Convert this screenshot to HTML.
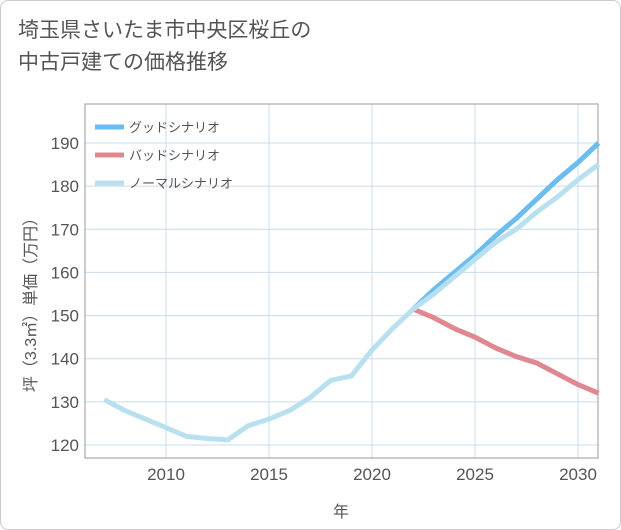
<!DOCTYPE html>
<html><head><meta charset="utf-8"><style>
body{margin:0;background:#fff;}
#wrap{position:relative;width:619px;height:528px;border:1px solid #ccc;border-radius:8px;overflow:hidden;background:#fff;font-family:"Liberation Sans","Noto Sans CJK JP",sans-serif;}
#title{position:absolute;left:17px;top:14px;font-size:21px;line-height:32px;color:#555;}
svg{position:absolute;left:0;top:0;}
</style></head><body>
<div id="wrap">
<div id="title">埼玉県さいたま市中央区桜丘の<br>中古戸建ての価格推移</div>
<svg id="chart" width="621" height="530"></svg>
</div>
<script>
const normalYears=[2007,2008,2009,2010,2011,2012,2013,2014,2015,2016,2017,2018,2019,2020,2021,2022,2023,2024,2025,2026,2027,2028,2029,2030,2031];
const normalVals=[130.5,128,126,124,122,121.5,121.2,124.5,126,128,131,135,136,142,147,151.5,155,159,163,167,170,174,177.5,181.5,185];
const scenYears=[2022,2023,2024,2025,2026,2027,2028,2029,2030,2031];
const goodVals=[151.5,156,160,164,168.5,172.5,177,181.5,185.5,190];
const badVals=[151.5,149.5,147,145,142.5,140.5,139,136.5,134,132];
const xTicks=[2010,2015,2020,2025,2030];
const yTicks=[120,130,140,150,160,170,180,190];
const NS='http://www.w3.org/2000/svg';
const svg=document.getElementById('chart');
const L=84,R=597,T=103,B=457;
const x=y=>165+(y-2010)*20.6;
const yS=v=>444-(v-120)*(302/70);
function mk(tag,attrs){const e=document.createElementNS(NS,tag);for(const k in attrs)e.setAttribute(k,attrs[k]);svg.appendChild(e);return e;}
for(const t of yTicks){
 const g=mk('line',{x1:L,x2:R,y1:yS(t),y2:yS(t),stroke:'#c9dcec','stroke-width':1});
 
 
 const tx=mk('text',{x:L-6,y:yS(t)+6,'text-anchor':'end','font-size':17,fill:'#555'});
 tx.textContent=t;
 
 
}
for(const t of xTicks){
 const g=mk('line',{x1:x(t),x2:x(t),y1:T,y2:B,stroke:'#c9dcec','stroke-width':1});
 
 
 const tx=mk('text',{x:x(t),y:B+22,'text-anchor':'middle','font-size':17,fill:'#555'});
 tx.textContent=t;
 
 
}
const frame=mk('rect',{x:L,y:T,width:R-L,height:B-T,fill:'none',stroke:'#999','stroke-width':1});


function line(xs,vs,color,name){
 const p=mk('polyline',{points:xs.map((a,i)=>x(a)+','+yS(vs[i])).join(' '),fill:'none',stroke:color,'stroke-width':5,'stroke-linejoin':'round'});
 
 
}
line(scenYears,badVals,'#e08890','bad-scenario-line');
line(scenYears,goodVals,'#6bbdf0','good-scenario-line');
line(normalYears,normalVals,'#b9e0ee','normal-scenario-line');
const leg=[['グッドシナリオ','#6bbdf0'],['バッドシナリオ','#e08890'],['ノーマルシナリオ','#b9e0ee']];
leg.forEach((l,i)=>{
 const yy=126+i*28;
 const s=mk('line',{x1:94,x2:123,y1:yy,y2:yy,stroke:l[1],'stroke-width':5});
 
 
 const tx=mk('text',{x:128,y:yy+5,'font-size':13,fill:'#555'});
 tx.textContent=l[0];
 
 
});
const xt=mk('text',{x:340,y:516,'text-anchor':'middle','font-size':16,fill:'#555'});
xt.textContent='年';


const yt=mk('text',{x:0,y:0,'text-anchor':'middle','font-size':16,fill:'#555',transform:'translate(35,300) rotate(-90)'});
yt.textContent='坪（3.3㎡）単価（万円）';


</script>
</body></html>
